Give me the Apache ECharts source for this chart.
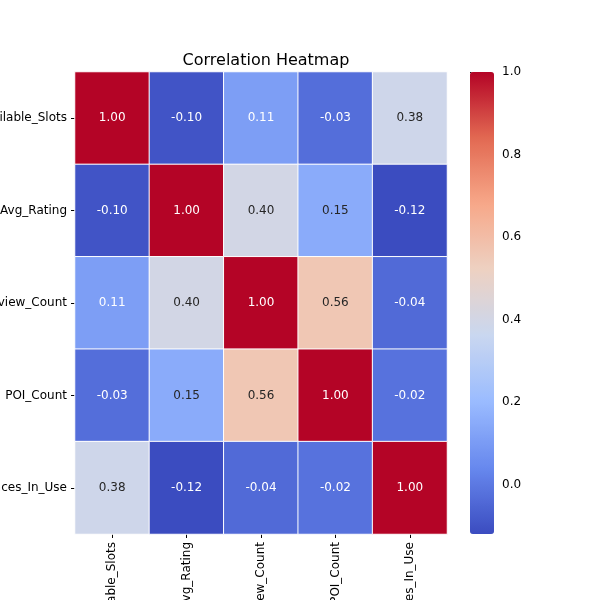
<!DOCTYPE html>
<html><head><meta charset="utf-8">
<script src="https://cdn.jsdelivr.net/npm/echarts@6/dist/echarts.min.js"></script>
<style>body{margin:0}#c{width:600px;height:600px}</style></head>
<body><div id="c"></div>
<script>
const categories = ["Available_Slots","Avg_Rating","Review_Count","POI_Count","Spaces_In_Use"];
const matrix = [
  [1.00,-0.10,0.11,-0.03,0.38],
  [-0.10,1.00,0.40,0.15,-0.12],
  [0.11,0.40,1.00,0.56,-0.04],
  [-0.03,0.15,0.56,1.00,-0.02],
  [0.38,-0.12,-0.04,-0.02,1.00]
];
const colorbarTicks = [0.0,0.2,0.4,0.6,0.8,1.0];
const vmin = -0.12, vmax = 1.0;
const data = [];
matrix.forEach((row,i)=>row.forEach((v,j)=>{
  const dark = v > 0.75 || v < 0.13;
  data.push({value:[j,i,v],label:{color:dark?'#fff':'#262626'}});
}));
const chart = echarts.init(document.getElementById('c'));
chart.setOption({
  animation:false,
  title:{text:'Correlation Heatmap',left:261,top:48,textAlign:'center',textStyle:{fontFamily:'DejaVu Sans',fontSize:16,fontWeight:'normal',color:'#000'}},
  grid:[{left:75,top:72,width:372,height:462,outerBoundsMode:'none',containLabel:false},
        {left:470,top:72,width:24,height:462,outerBoundsMode:'none',containLabel:false}],
  xAxis:[{type:'category',data:categories,gridIndex:0,axisLine:{show:false},axisTick:{show:true,length:4,alignWithLabel:true,lineStyle:{color:'#000'}},
    axisLabel:{rotate:90,fontFamily:'DejaVu Sans',fontSize:12,color:'#000',margin:8}},
    {type:'value',gridIndex:1,show:false,min:0,max:1}],
  yAxis:[{type:'category',data:categories,inverse:true,gridIndex:0,axisLine:{show:false},axisTick:{show:true,length:4,alignWithLabel:true,lineStyle:{color:'#000'}},
    axisLabel:{fontFamily:'DejaVu Sans',fontSize:12,color:'#000',margin:8}},
    {type:'value',gridIndex:1,position:'right',min:vmin,max:vmax,axisLine:{show:false},splitLine:{show:false},
     axisTick:{show:true,length:4,customValues:colorbarTicks,lineStyle:{color:'#000'}},
     axisLabel:{customValues:colorbarTicks,formatter:v=>v.toFixed(1),fontFamily:'DejaVu Sans',fontSize:12,color:'#000',margin:8}}],
  visualMap:{min:vmin,max:vmax,seriesIndex:0,calculable:false,orient:'vertical',left:470,top:72,padding:0,itemWidth:24,itemHeight:462,showLabel:false,
    inRange:{color:['#3b4cc0','#6788ee','#9abbff','#c9d7f0','#edd1c2','#f7a889','#e26952','#b40426']}},
  series:[{type:'heatmap',xAxisIndex:0,yAxisIndex:0,data:data,
    itemStyle:{borderColor:'#fff',borderWidth:1},
    label:{show:true,formatter:p=>p.value[2].toFixed(2),fontFamily:'DejaVu Sans',fontSize:12}}]
});
</script></body></html>
